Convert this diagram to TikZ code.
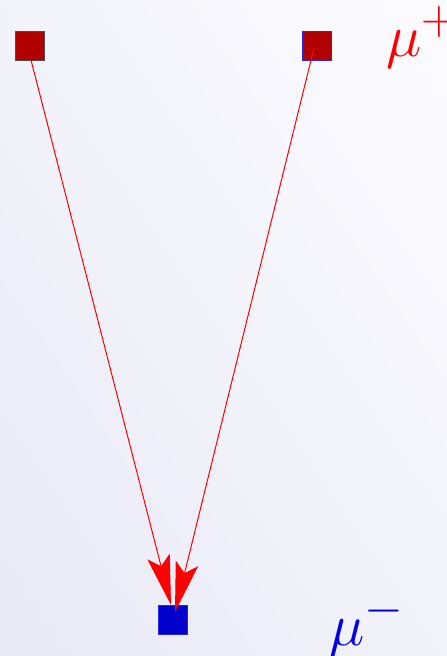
\documentclass[tikz,border=0pt]{standalone}
\usetikzlibrary{arrows.meta,shadings}
\definecolor{bgdark}{RGB}{233,233,246}
\definecolor{bglight}{RGB}{252,252,255}
\definecolor{sqred}{RGB}{176,0,0}
\definecolor{sqblue}{RGB}{0,0,204}
\definecolor{edgeblue}{RGB}{40,40,240}
\definecolor{labblue}{RGB}{0,0,230}
\tikzset{
  redsq/.style={draw=black!70, fill=sqred, line width=0.8pt, minimum size=29pt, inner sep=0pt, outer sep=0pt},
  bluesq/.style={draw=edgeblue, fill=sqblue, line width=0.8pt, minimum size=29pt, inner sep=0pt, outer sep=0pt},
  link/.style={draw=red, line width=1pt, -{Stealth[length=50pt,width=23pt,inset=10pt]}},
  lab/.style={font=\Huge, scale=2.4, inner sep=0pt, anchor=base west}
}
\begin{document}
\begin{tikzpicture}[x=1pt,y=-1pt]
\useasboundingbox (0,0) rectangle (447,656);
\shade[lower left=bgdark, upper right=bglight, lower right=bglight!50!bgdark, upper left=bglight!50!bgdark] (0,0) rectangle (447,656);
\clip (0,0) rectangle (447,656);
\coordinate (lt) at (171,605);
\coordinate (rt) at (175,612);
\coordinate (as) at (31,60);
\coordinate (bs) at (314,48);
\node[redsq] (a) at (29.5,45.5) {};
\node[redsq, draw=edgeblue] (b) at (316.5,45.5) {};
\node[bluesq] (c) at (173,620) {};
\draw[link] (as) -- (lt);
\draw[link] (bs) -- (rt);
\node[lab, text=red] (mp) at (386,56) {$\mu^+$};
\node[lab, text=labblue] (mm) at (329,645) {$\mu^-$};
\end{tikzpicture}
\end{document}
